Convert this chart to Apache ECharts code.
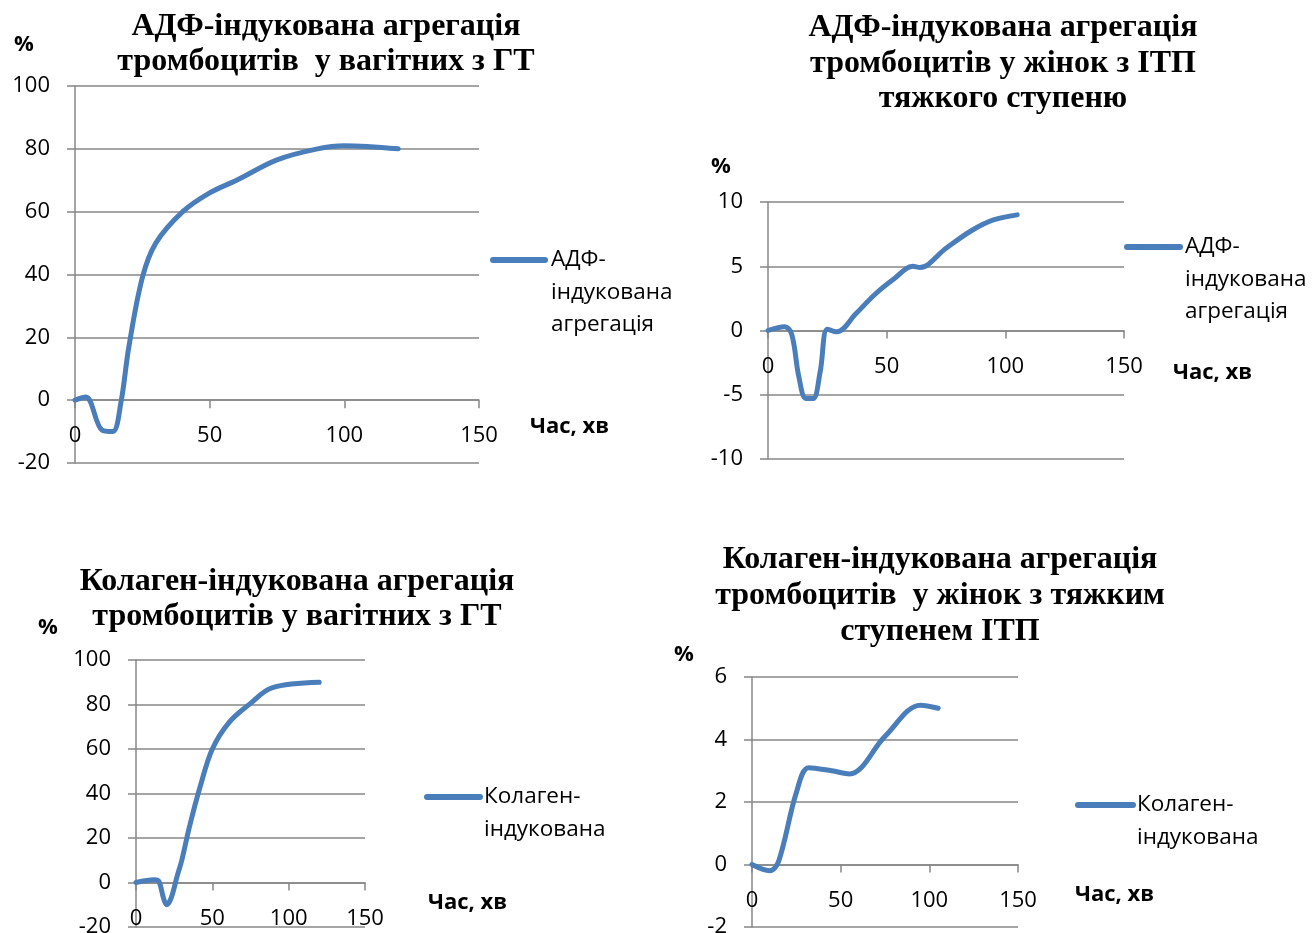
<!DOCTYPE html>
<html>
<head>
<meta charset="utf-8">
<script src="https://cdn.jsdelivr.net/npm/echarts@6/dist/echarts.min.js"></script>
<style>
html,body{margin:0;padding:0;background:#fff;}
#c{width:1314px;height:933px;}
</style>
</head>
<body>
<div id="c"></div>
<script>
// ---- data ----
const xTicks = [0, 50, 100, 150];

const adfGtTime = [0, 4, 10, 14, 17, 20, 25, 30, 40, 50, 60, 75, 90, 100, 120];
const adfGtVal  = [0, 1, -9.5, -10, -1, 17, 39, 50, 60, 66, 70, 76.5, 80, 81, 80];

const adfItpTime = [0, 7, 10, 13, 16, 19, 22, 25, 29, 37, 45, 53, 61, 64, 75, 86, 95, 105];
const adfItpVal  = [0, 0.3, -0.3, -3.6, -5.3, -5.3, -3.2, 0.1, -0.1, 1.3, 2.8, 4.0, 5.0, 4.9, 6.4, 7.8, 8.6, 9.0];

const colGtTime = [0, 12, 15, 18, 20, 23, 27, 30, 35, 42, 50, 61, 75, 89, 120];
const colGtVal  = [0, 1.2, 0.5, -7, -10, -7, 3, 10, 25, 43, 60, 72, 80.5, 87.5, 90];

const colItpTime = [0, 10, 15, 25, 32, 45, 55, 75, 95, 105];
const colItpVal  = [0, -0.2, 0.1, 2.3, 3.1, 3.0, 2.9, 4.1, 5.1, 5.0];

const titles = [
  'АДФ-індукована агрегація\nтромбоцитів  у вагітних з ГТ',
  'АДФ-індукована агрегація\nтромбоцитів у жінок з ІТП\nтяжкого ступеню',
  'Колаген-індукована агрегація\nтромбоцитів у вагітних з ГТ',
  'Колаген-індукована агрегація\nтромбоцитів  у жінок з тяжким\nступенем ІТП'
];
const seriesNames = ['АДФ-індукована агрегація', 'АДФ-індукована агрегація', 'Колаген-індукована', 'Колаген-індукована'];
const legendTexts = ['АДФ-\nіндукована\nагрегація', 'АДФ-\nіндукована\nагрегація', 'Колаген-\nіндукована', 'Колаген-\nіндукована'];
const yRanges = [[-20, 100, 20], [-10, 10, 5], [-20, 100, 20], [-2, 6, 2]];
const xAxisName = 'Час, хв';
const yAxisName = '%';

// ---- layout ----
const grids = [
  {left: 75, top: 86, width: 404, height: 377},
  {left: 768, top: 202, width: 356, height: 257},
  {left: 136, top: 660, width: 229, height: 267},
  {left: 752, top: 677, width: 266, height: 250}
];
const titlePos = [
  {cx: 326, top: 9, lh: 35},
  {cx: 1003, top: 10, lh: 35.5},
  {cx: 297, top: 564, lh: 35},
  {cx: 940, top: 542, lh: 36}
];
const pctPos = [[24, 45], [721, 167], [48, 628], [684, 655]];
const timePos = [[530, 427], [1173, 373], [428, 903], [1075, 895]];
const legPos = [
  {x1: 493, x2: 545, y: 260, tx: 551},
  {x1: 1127, x2: 1180, y: 247, tx: 1185},
  {x1: 427, x2: 480, y: 797, tx: 484},
  {x1: 1078, x2: 1133, y: 805, tx: 1137}
];

const LINE = '#4A7EBB';
const GRIDC = '#878787';
const SANS = '"Open Sans", "Noto Sans", sans-serif';
const SERIF = '"Liberation Serif", "DejaVu Serif", serif';

const dataSets = [
  [adfGtTime, adfGtVal], [adfItpTime, adfItpVal], [colGtTime, colGtVal], [colItpTime, colItpVal]
];

// x axis sits at value 0 of the y scale: shift it up from the grid bottom by the scale distance
function zeroOffset(i) {
  const r = yRanges[i];
  return -grids[i].height * (0 - r[0]) / (r[1] - r[0]);
}

const option = {
  backgroundColor: '#fff',
  animation: false,
  title: titles.map((t, i) => ({
    text: t,
    left: titlePos[i].cx,
    top: titlePos[i].top,
    padding: 0,
    textAlign: 'center',
    textStyle: {fontFamily: SERIF, fontWeight: 'bold', fontSize: 32, color: '#000', lineHeight: titlePos[i].lh}
  })),
  grid: grids.map(g => Object.assign({containLabel: false, outerBoundsMode: 'none'}, g)),
  xAxis: grids.map((g, i) => ({
    type: 'value', gridIndex: i, min: xTicks[0], max: xTicks[xTicks.length - 1], interval: 50,
    position: 'bottom', offset: zeroOffset(i),
    axisLine: {show: true, onZero: false, lineStyle: {color: GRIDC, width: 1.5}},
    axisTick: {show: true, length: 8, lineStyle: {color: GRIDC, width: 1.5}},
    axisLabel: {margin: 25, fontFamily: SANS, fontSize: 22, color: '#000'},
    splitLine: {show: false}
  })),
  yAxis: yRanges.map((r, i) => ({
    type: 'value', gridIndex: i, min: r[0], max: r[1], interval: r[2],
    axisLine: {show: true, onZero: false, lineStyle: {color: GRIDC, width: 1.5}},
    axisTick: {show: true, length: 8, lineStyle: {color: GRIDC, width: 1.5}},
    axisLabel: {margin: 25, fontFamily: SANS, fontSize: 22, color: '#000'},
    splitLine: {show: true, lineStyle: {color: GRIDC, width: 1.5}}
  })),
  series: dataSets.map((d, i) => ({
    type: 'line', name: seriesNames[i], xAxisIndex: i, yAxisIndex: i,
    data: d[0].map((t, k) => [t, d[1][k]]),
    smooth: 0.35, showSymbol: false, symbol: 'none',
    lineStyle: {color: LINE, width: 5, cap: 'round', join: 'round'},
    itemStyle: {color: LINE}
  })),
  graphic: []
};

for (let i = 0; i < 4; i++) {
  option.graphic.push({
    type: 'text', x: pctPos[i][0], y: pctPos[i][1],
    style: {text: yAxisName, font: 'bold 22px ' + SANS, fill: '#000', align: 'center', verticalAlign: 'middle'}
  });
  option.graphic.push({
    type: 'text', x: timePos[i][0], y: timePos[i][1],
    style: {text: xAxisName, font: 'bold 22px ' + SANS, fill: '#000', align: 'left', verticalAlign: 'middle'}
  });
  const L = legPos[i];
  option.graphic.push({
    type: 'line', shape: {x1: L.x1, y1: L.y, x2: L.x2, y2: L.y},
    style: {stroke: LINE, lineWidth: 6, lineCap: 'round'}
  });
  option.graphic.push({
    type: 'text', x: L.tx, y: L.y - 16.5,
    style: {text: legendTexts[i], font: '22.5px ' + SANS, lineHeight: 32.5, fill: '#000', align: 'left', verticalAlign: 'top'}
  });
}

const chart = echarts.init(document.getElementById('c'), null, {renderer: 'canvas'});
chart.setOption(option);
</script>
</body>
</html>
